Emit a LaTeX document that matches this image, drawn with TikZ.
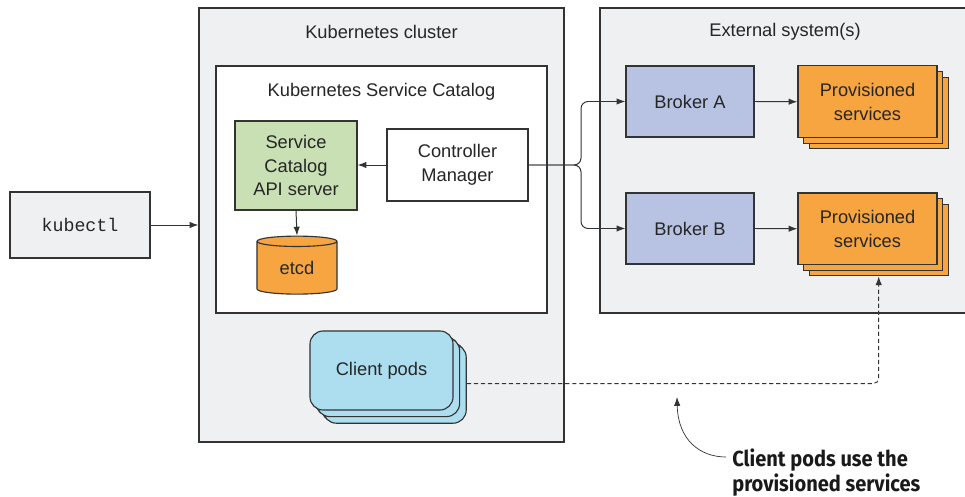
\documentclass[tikz,border=0pt]{standalone}
\usepackage{fontspec}
\setmainfont{Liberation Sans}
\setmonofont{Liberation Mono}
\newfontfamily\notefont[FakeStretch=0.92]{Fira Sans}
\usepackage{xcolor}
\usepackage{tikz}
\usetikzlibrary{shapes.geometric,arrows.meta,positioning,calc,shadows}

\definecolor{boxgray}{RGB}{239,240,242}
\definecolor{linegray}{RGB}{51,51,51}
\definecolor{apigreen}{RGB}{200,224,180}
\definecolor{etcdorange}{RGB}{247,165,65}
\definecolor{brokerblue}{RGB}{184,194,226}
\definecolor{podcyan}{RGB}{173,222,239}

\begin{document}
\begin{tikzpicture}[
  x=0.025cm, y=-0.025cm,
  font=\fontsize{13}{16.7}\selectfont,
  area/.style={draw=linegray, line width=0.8pt, rectangle, inner sep=0pt},
  block/.style={draw=linegray, line width=0.8pt, rectangle, align=center, inner sep=0pt, text=black!85},
  stack/.style={block, double copy shadow={shadow xshift=0.14cm, shadow yshift=-0.14cm}},
  title/.style={text=black!85},
  arr/.style={-{Latex[length=2.2mm, width=1.6mm]}, line width=0.7pt, draw=linegray},
  note/.style={font=\notefont\bfseries\fontsize{15.5}{17.7}\selectfont, align=left, text=black!90, inner sep=0pt}
]

\useasboundingbox (0,0) rectangle (965,497);

\node[area, fill=boxgray, minimum width=9.125cm, minimum height=10.85cm] (cluster) at (381.5,225) {};
\node[area, fill=white, minimum width=8.275cm, minimum height=6.175cm] (catalog) at (381.5,189.5) {};
\node[area, fill=boxgray, minimum width=9.25cm, minimum height=7.625cm] (ext) at (785,160.5) {};

\node[title] (clusterT) at (381.5,32) {Kubernetes cluster};
\node[title] (catalogT) at (381.5,92) {Kubernetes Service Catalog};
\node[title] (extT) at (785,32) {External system(s)};

\node[block, fill=apigreen, minimum width=3.05cm, minimum height=2.225cm] (api) at (296,165.5) {Service\\Catalog\\API server};
\node[block, fill=white, minimum width=3.525cm, minimum height=1.8cm] (cm) at (457.5,165) {Controller\\Manager};
\node[block, cylinder, shape border rotate=90, aspect=0.3, fill=etcdorange, minimum width=2cm, minimum height=1.45cm] (etcd) at (297,268) {etcd};

\node[block, fill=boxgray, minimum width=3.5cm, minimum height=1.65cm, font=\ttfamily\fontsize{13}{16}\selectfont] (kubectl) at (80,225) {kubectl};

\node[stack, fill=podcyan, rounded corners=0.33cm, minimum width=3.575cm, minimum height=1.975cm,
  double copy shadow={shadow xshift=0.165cm, shadow yshift=-0.165cm}] (pods) at (381.5,370.5) {Client pods};

\node[block, fill=brokerblue, minimum width=3.2cm, minimum height=1.775cm] (brokerA) at (690,101.5) {Broker A};
\node[block, fill=brokerblue, minimum width=3.2cm, minimum height=1.775cm] (brokerB) at (690,228.5) {Broker B};
\node[stack, fill=etcdorange, minimum width=3.475cm, minimum height=1.79cm] (provA) at (867.5,101.75) {Provisioned\\services};
\node[stack, fill=etcdorange, minimum width=3.475cm, minimum height=1.79cm] (provB) at (867.5,228.75) {Provisioned\\services};

\draw[arr] (kubectl.east) -- (kubectl.east -| cluster.west);
\draw[arr] (cm.west) -- (cm.west -| api.east);
\draw[arr] (api.south) -- (etcd.north);
\draw[arr, rounded corners=5pt] (cm.east) -| (581,130) |- (brokerA.west);
\draw[arr, rounded corners=5pt] (cm.east) -| (581,200) |- (brokerB.west);
\draw[arr] (brokerA.east) -- (provA.west);
\draw[arr] (brokerB.east) -- (provB.west);

\draw[arr, dashed, dash pattern=on 3pt off 2pt, rounded corners=4pt]
  ($(pods.east)+(0.33cm,-0.33cm)$) -| ($(provB.south)+(0.28cm,-0.28cm)$);

\node[note, anchor=north west] (usage) at (732,449) {Client pods use the\\provisioned services};
\coordinate (usageTip) at (677,397);
\draw[arr, line width=0.5pt] ($(usage.north west)+(-0.15cm,-0.2cm)$) .. controls (700,457) and (678,440) .. (usageTip);

\end{tikzpicture}
\end{document}
